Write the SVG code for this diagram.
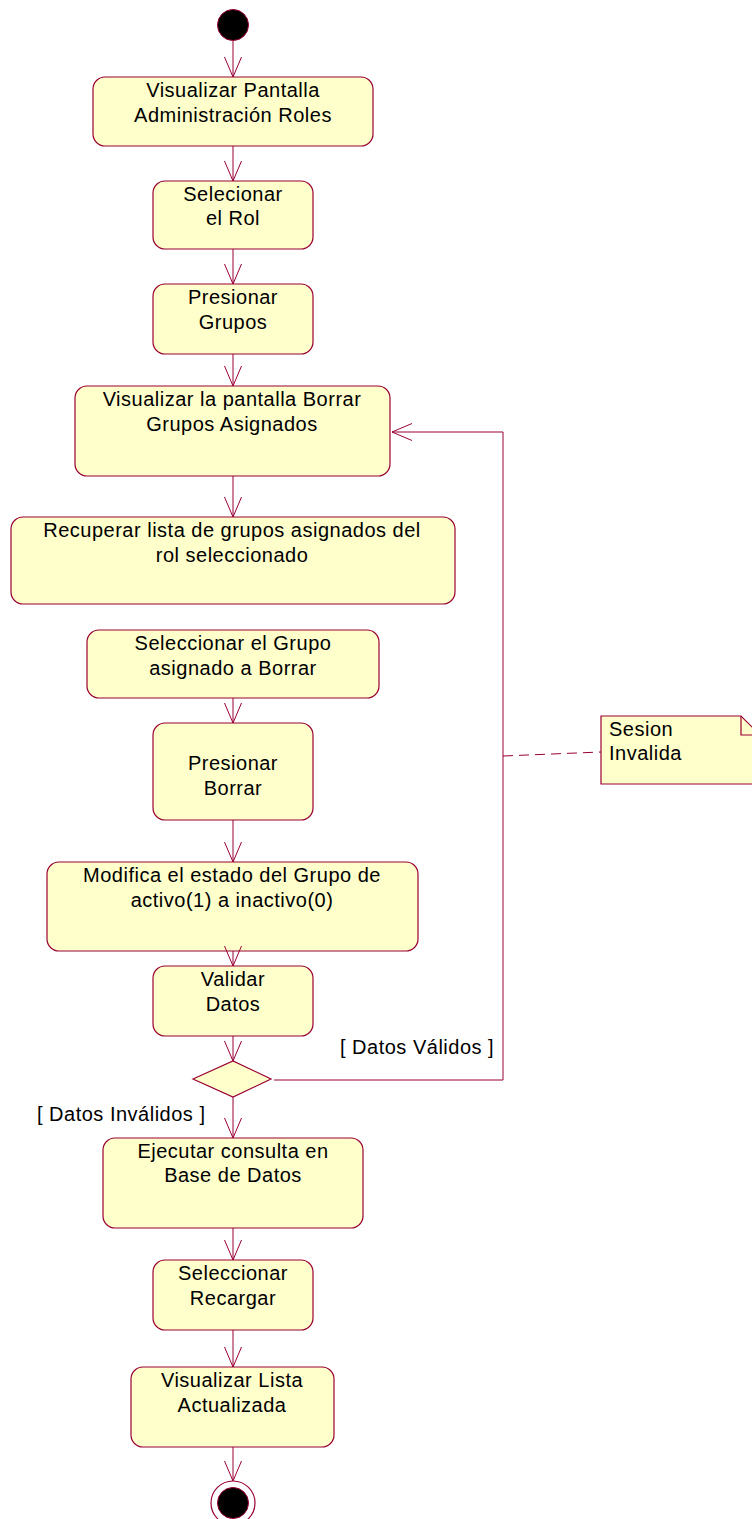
<svg xmlns="http://www.w3.org/2000/svg" width="752" height="1519" viewBox="0 0 752 1519">
<defs>
<marker id="arr" markerWidth="22" markerHeight="20" refX="20" refY="9" orient="auto" markerUnits="userSpaceOnUse">
<path d="M0,0.5 L20,9 L0,17.5" fill="none" stroke="#990033" stroke-width="1"/>
</marker>
</defs>
<style>
.n{fill:#FFFFCC;stroke:#990033;stroke-width:1.2}
.t{font-family:"Liberation Sans",Arial,sans-serif;font-size:20px;letter-spacing:0.5px;fill:#000;text-anchor:middle}
.l{font-family:"Liberation Sans",Arial,sans-serif;font-size:20px;letter-spacing:0.5px;fill:#000}
.c{fill:none;stroke:#990033;stroke-width:1}
</style>
<rect width="752" height="1519" fill="#fff"/>
<g id="start"><circle cx="233" cy="25" r="15.5" fill="#000" stroke="#990033" stroke-width="1"/></g>
<g id="n1"><rect class="n" x="93" y="77" width="280" height="69" rx="12"/><text class="t" x="233" y="97">Visualizar Pantalla</text><text class="t" x="233" y="122">Administración Roles</text></g>
<g id="n2"><rect class="n" x="153" y="181" width="160" height="68" rx="12"/><text class="t" x="233" y="201">Selecionar</text><text class="t" x="233" y="225">el Rol</text></g>
<g id="n3"><rect class="n" x="153" y="284" width="160" height="70" rx="12"/><text class="t" x="233" y="304">Presionar</text><text class="t" x="233" y="329">Grupos</text></g>
<g id="n4"><rect class="n" x="75" y="386" width="315" height="90" rx="12"/><text class="t" x="232" y="406">Visualizar la pantalla Borrar</text><text class="t" x="232" y="431">Grupos Asignados</text></g>
<g id="n5"><rect class="n" x="11" y="517" width="444" height="87" rx="12"/><text class="t" x="232" y="537">Recuperar lista de grupos asignados del</text><text class="t" x="232" y="562">rol seleccionado</text></g>
<g id="n6"><rect class="n" x="87" y="630" width="292" height="68" rx="12"/><text class="t" x="233" y="650">Seleccionar el Grupo</text><text class="t" x="233" y="675">asignado a Borrar</text></g>
<g id="n7"><rect class="n" x="153" y="723" width="160" height="97" rx="12"/><text class="t" x="233" y="770">Presionar</text><text class="t" x="233" y="795">Borrar</text></g>
<g id="n8"><rect class="n" x="47" y="862" width="371" height="89" rx="12"/><text class="t" x="232" y="882">Modifica el estado del Grupo de</text><text class="t" x="232" y="907">activo(1) a inactivo(0)</text></g>
<g id="n9"><rect class="n" x="153" y="966" width="160" height="70" rx="12"/><text class="t" x="233" y="986">Validar</text><text class="t" x="233" y="1011">Datos</text></g>
<g id="decision"><polygon points="193,1079 233,1061 271,1079 233,1097" fill="#FFFFCC" stroke="#990033" stroke-width="1.2"/></g>
<g id="n10"><rect class="n" x="103" y="1138" width="260" height="90" rx="12"/><text class="t" x="233" y="1158">Ejecutar consulta en</text><text class="t" x="233" y="1182">Base de Datos</text></g>
<g id="n11"><rect class="n" x="153" y="1260" width="160" height="70" rx="12"/><text class="t" x="233" y="1280">Seleccionar</text><text class="t" x="233" y="1305">Recargar</text></g>
<g id="n12"><rect class="n" x="131" y="1367" width="203" height="80" rx="12"/><text class="t" x="232" y="1387">Visualizar Lista</text><text class="t" x="232" y="1412">Actualizada</text></g>
<g id="end"><circle cx="233" cy="1503" r="22" fill="#fff" stroke="#990033" stroke-width="1.2"/><circle cx="233" cy="1503" r="15.5" fill="#000" stroke="#990033" stroke-width="1"/></g>
<g id="note"><polygon points="601,716 741,716 760,735 760,784 601,784" fill="#FFFFCC" stroke="#990033" stroke-width="1.2"/><polyline points="741,716 741,735 760,735" fill="none" stroke="#990033" stroke-width="1.2"/><text class="l" x="609" y="736">Sesion</text><text class="l" x="609" y="760">Invalida</text></g>
<g id="connectors">
<line class="c" x1="233" y1="41" x2="233" y2="77" marker-end="url(#arr)"/>
<line class="c" x1="233" y1="146" x2="233" y2="181" marker-end="url(#arr)"/>
<line class="c" x1="233" y1="249" x2="233" y2="284" marker-end="url(#arr)"/>
<line class="c" x1="233" y1="354" x2="233" y2="386" marker-end="url(#arr)"/>
<line class="c" x1="233" y1="476" x2="233" y2="517" marker-end="url(#arr)"/>
<line class="c" x1="233" y1="698" x2="233" y2="723" marker-end="url(#arr)"/>
<line class="c" x1="233" y1="820" x2="233" y2="862" marker-end="url(#arr)"/>
<line class="c" x1="233" y1="951" x2="233" y2="966" marker-end="url(#arr)"/>
<line class="c" x1="233" y1="1036" x2="233" y2="1061" marker-end="url(#arr)"/>
<line class="c" x1="233" y1="1097" x2="233" y2="1138" marker-end="url(#arr)"/>
<line class="c" x1="233" y1="1228" x2="233" y2="1260" marker-end="url(#arr)"/>
<line class="c" x1="233" y1="1330" x2="233" y2="1367" marker-end="url(#arr)"/>
<line class="c" x1="233" y1="1447" x2="233" y2="1481" marker-end="url(#arr)"/>
<polyline class="c" points="274,1080 503,1080 503,432 392,432" marker-end="url(#arr)"/>
<line x1="503" y1="756" x2="601" y2="752" stroke="#990033" stroke-width="1" stroke-dasharray="10,6"/>
<text class="l" x="340" y="1054">[ Datos Válidos ]</text>
<text class="l" x="37" y="1121">[ Datos Inválidos ]</text>
</g>
</svg>
